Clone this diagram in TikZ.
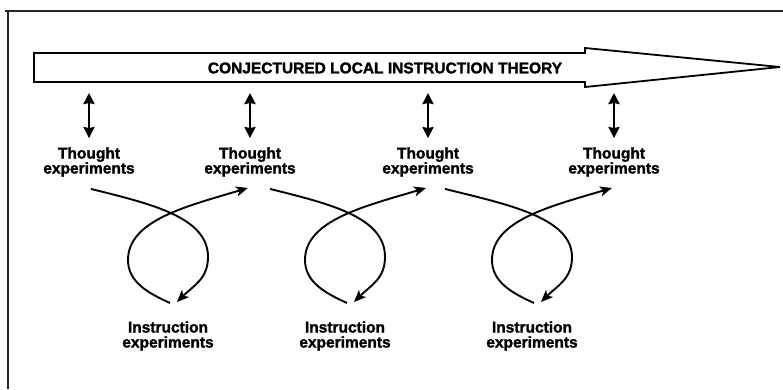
\documentclass[tikz,border=0pt]{standalone}
\usepackage{fontspec}
\setmainfont{Liberation Sans}[BoldFeatures={FakeBold=1.6}]
\usetikzlibrary{arrows.meta,positioning}

\tikzset{
    labeltext/.style={font=\bfseries\fontsize{15.5}{15}\selectfont, align=center, inner sep=0pt},
    link/.style={{Stealth[length=11pt,width=11pt,inset=1pt]}-{Stealth[length=11pt,width=11pt,inset=1pt]}, line width=2.8pt},
    cycleline/.style={-{Stealth[length=12pt,width=10pt,inset=3pt]}, line width=1.9pt},
}

\begin{document}
\begin{tikzpicture}[x=1pt,y=-1pt]
        \useasboundingbox (0,0) rectangle (783,389);
        % frame
        \draw[line width=1.3pt, black!85] (5,11) -- (783,11);
        \draw[line width=1.3pt, black!85] (8,11) -- (8,389);
        % theory arrow
        \draw[line width=1.8pt, line join=miter] (34,53) -- (585,53) -- (585,48) -- (780,67)
            -- (585,87) -- (585,82) -- (34,82) coordinate (shaft) -- cycle;
        \node[labeltext] (theory) at (385,68) {CONJECTURED LOCAL INSTRUCTION THEORY};

        \node[labeltext] (t1) at (89,162) {Thought\\experiments};
        \node[labeltext] (t2) at (250,162) {Thought\\experiments};
        \node[labeltext] (t3) at (428,162) {Thought\\experiments};
        \node[labeltext] (t4) at (614,162) {Thought\\experiments};

        \node[labeltext] (i1) at (168,336) {Instruction\\experiments};
        \node[labeltext] (i2) at (345,336) {Instruction\\experiments};
        \node[labeltext] (i3) at (532,336) {Instruction\\experiments};

        \foreach \n in {1,...,4}
            \path (t\n.north |- shaft) edge[link, shorten <=11pt, shorten >=9pt] (t\n.north);

        % loops between thought and instruction experiments
        \foreach \n/\m/\dx in {1/2/2pt, 2/3/20pt, 3/4/17pt} {
            \draw[cycleline] ([xshift=\dx, yshift=-12pt]t\n.south)
                .. controls +(60,15) and +(0,-40) .. ([shift={(40,-79)}]i\n.center)
                .. controls +(0,22) and +(16,-16) .. ([shift={(9,-34)}]i\n.center);
            \draw[cycleline] ([shift={(2,-33)}]i\n.center)
                .. controls +(-22,-10) and +(0,22) .. ([shift={(-40,-76)}]i\n.center)
                .. controls +(0,-40) and +(-60,18) .. ([xshift=-2pt, yshift=-11pt]t\m.south);
        }
    \end{tikzpicture}
\end{document}
